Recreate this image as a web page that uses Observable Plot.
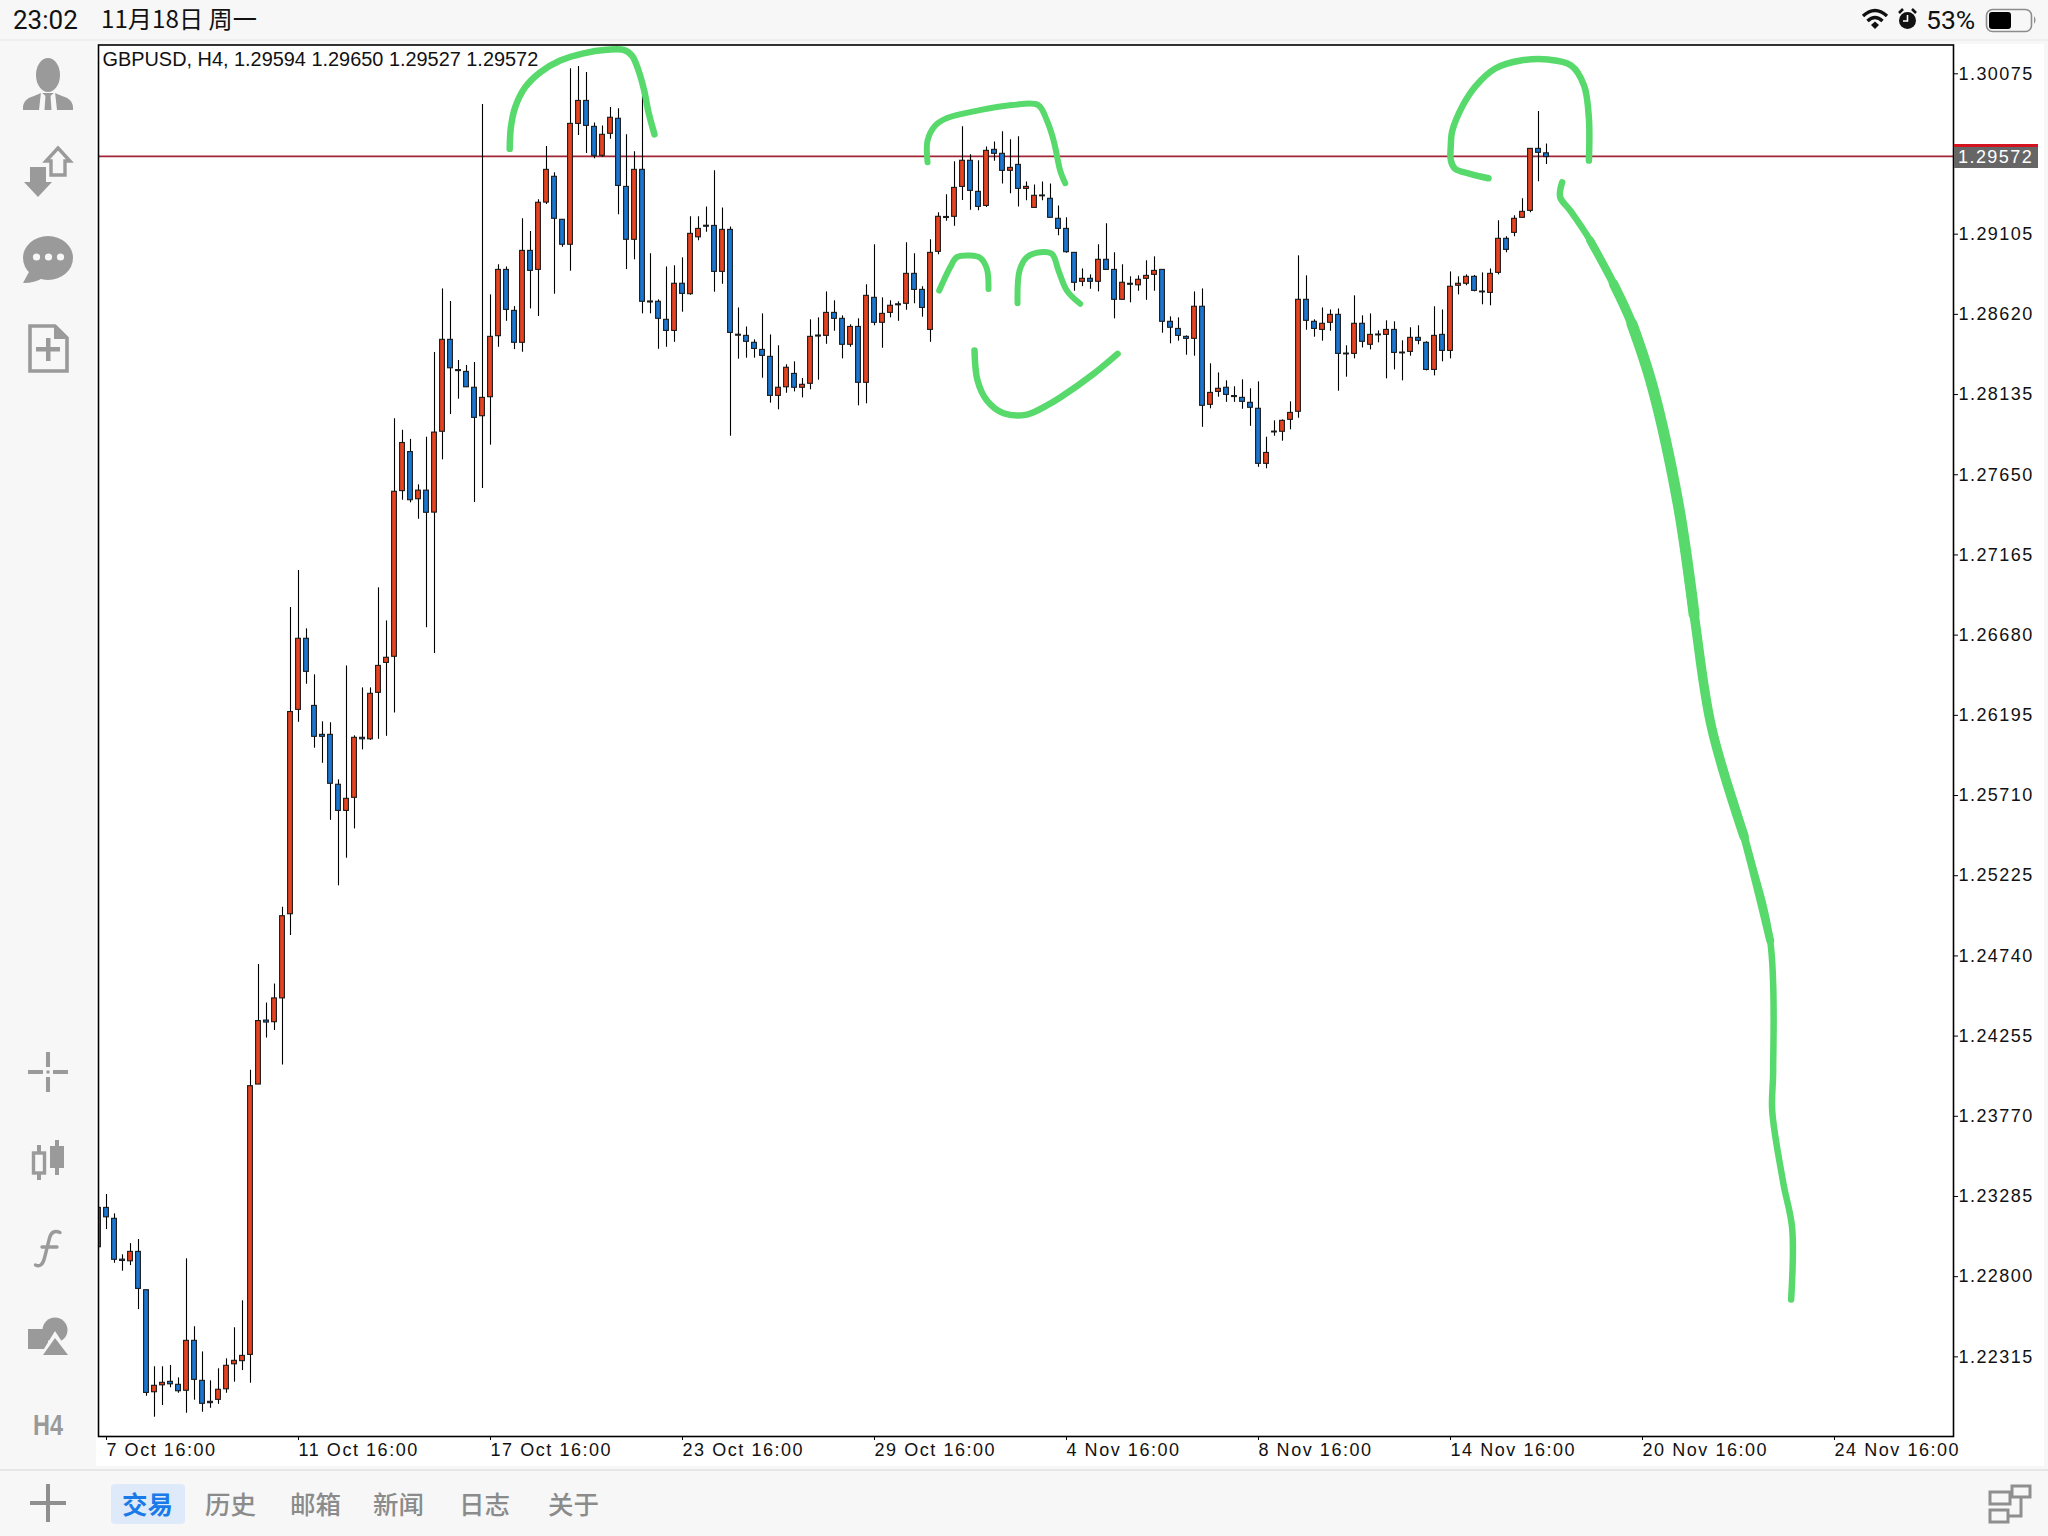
<!DOCTYPE html>
<html lang="zh">
<head>
<meta charset="utf-8">
<title>GBPUSD H4</title>
<script src="https://cdn.jsdelivr.net/npm/d3@7"></script>
<script src="https://cdn.jsdelivr.net/npm/@observablehq/plot@0.6"></script>
<style>
html,body{margin:0;padding:0;background:#f7f7f7;overflow:hidden}
#page{position:relative;width:2048px;height:1536px;background:#f7f7f7;overflow:hidden;font-family:"Liberation Sans",Arial,sans-serif}
#page>*{position:absolute}
#paper{left:96px;top:44px;width:1948px;height:1422px;background:#fff}
#chrome{left:0;top:0}
#chart{left:0;top:0}
#chart svg{display:block;background:transparent}
g[aria-label="y-axis tick label"] text{letter-spacing:1.45px}
g[aria-label="x-axis tick label"] text{letter-spacing:1.55px}
.pb{left:1954px;width:84px}
#pbr{top:144px;height:3px;background:#d3131f}
#pbg{top:147px;height:21px;line-height:21px;background:#666;color:#fff;font-size:18px;letter-spacing:1.45px;text-indent:4px}
</style>
</head>
<body>
<div id="page">
<div id="paper"></div>
<svg id="chrome" width="2048" height="1536" viewBox="0 0 2048 1536" xmlns="http://www.w3.org/2000/svg">
  <line x1="0" y1="40" x2="2048" y2="40" stroke="#ececec" stroke-width="1.5"/>
  <line x1="0" y1="1470" x2="2048" y2="1470" stroke="#e6e6e6" stroke-width="2"/>
  <text x="13" y="28.5" font-family="Roboto,'Liberation Sans'" font-size="26" fill="#111">23:02</text>
  <text x="101" y="28" font-family="'Noto Sans CJK SC'" font-size="24.2" fill="#111">11月18日 周一</text>
  <text x="1926" y="29" font-family="Roboto,'Liberation Sans'" font-size="26.5" fill="#111">53%</text>
  <!-- wifi -->
  <g fill="none" stroke="#111" stroke-width="3.4">
    <path d="M1863 16 Q1875 5 1887 16"/><path d="M1867.5 21 Q1875 14 1882.5 21"/>
  </g>
  <path d="M1871 25 L1875 21.5 L1879 25 L1875 29 Z" fill="#111"/>
  <!-- alarm -->
  <circle cx="1907.5" cy="20.5" r="8.5" fill="#111"/>
  <path d="M1907.5 15 V21 H1903" stroke="#fff" stroke-width="1.6" fill="none"/>
  <path d="M1899 13 L1903 9 M1916 13 L1912 9" stroke="#111" stroke-width="2.6"/>
  <!-- battery -->
  <rect x="1986.5" y="9.5" width="45" height="22" rx="6" fill="none" stroke="#8c8c8c" stroke-width="1.6"/>
  <rect x="1989" y="12" width="22" height="17" rx="3" fill="#000"/>
  <path d="M2034 16 Q2037 20 2034 24 Z" fill="#8c8c8c"/>
  <!-- sidebar icons -->
  <g fill="#9a9a9a">
    <ellipse cx="48" cy="75" rx="12" ry="17"/>
    <path d="M23 110 Q22 99 34 96 L41 93 L55 93 L62 96 Q74 99 73 110 Z"/>
    <path d="M41 92 L48 98 L55 92 L57 110 L39 110 Z" fill="#f7f7f7"/>
    <path d="M45.5 95 H50.5 L51.5 110 H44.5 Z"/>
    <path d="M30 167 H46 V182 H52 L38 197 L24 182 H30 Z"/>
    <path d="M58 148 L70 161 H65 V175 H51 V161 H46 Z" fill="none" stroke="#9a9a9a" stroke-width="3.4"/>
    <ellipse cx="48" cy="258" rx="25" ry="22"/>
    <path d="M30 270 L23 283 Q36 283 44 277 Z"/>
    <circle cx="36.5" cy="257" r="3.6" fill="#f7f7f7"/><circle cx="48.5" cy="257" r="3.6" fill="#f7f7f7"/><circle cx="60.5" cy="257" r="3.6" fill="#f7f7f7"/>
    <path d="M30 326 H55 L67 338 V371 H30 Z" fill="none" stroke="#9a9a9a" stroke-width="3.6"/>
    <path d="M54 325 L68 339 H54 Z"/>
    <path d="M46 338 H50.5 V347 H60 V351.5 H50.5 V361 H46 V351.5 H36 V347 H46 Z"/>
    <rect x="46" y="1052" width="4" height="15"/><rect x="46" y="1077" width="4" height="15"/>
    <rect x="28" y="1070" width="15" height="4"/><rect x="53" y="1070" width="15" height="4"/><rect x="46.5" y="1070.5" width="3" height="3"/>
    <rect x="37" y="1145" width="4" height="35"/><rect x="55" y="1140" width="4" height="35"/>
    <rect x="33.5" y="1153" width="11" height="20" fill="#f7f7f7" stroke="#9a9a9a" stroke-width="3.4"/>
    <rect x="50" y="1146" width="14" height="22"/>
    <rect x="28" y="1329" width="20" height="20"/>
    <circle cx="55" cy="1330" r="12.5"/>
    <path d="M55 1331 L72 1357 H39 Z" fill="#f7f7f7"/>
    <path d="M55 1338 L68 1355 H43 Z"/>
    <path d="M60 1232.5 Q52 1229 49.5 1238 L44.5 1258 Q42 1268 35.5 1265 M42 1247 H57" fill="none" stroke="#9a9a9a" stroke-width="3.4" stroke-linecap="round"/>
    <text x="33" y="1435" font-family="'Liberation Sans'" font-weight="700" font-size="30" textLength="30" lengthAdjust="spacingAndGlyphs">H4</text>
  </g>
  <!-- bottom bar -->
  <path d="M46 1484 H50 V1501 H66 V1505 H50 V1522 H46 V1505 H30 V1501 H46 Z" fill="#8f8f8f"/>
  <rect x="111" y="1484" width="74" height="40" rx="4" fill="#deeafa"/>
  <g font-family="'Noto Sans CJK SC'" font-size="25.5" fill="#8b8b8b" font-weight="500">
    <text x="122" y="1513.5" fill="#1a7be8" font-weight="700">交易</text>
    <text x="205" y="1513.5">历史</text>
    <text x="290" y="1513.5">邮箱</text>
    <text x="373" y="1513.5">新闻</text>
    <text x="459" y="1513.5">日志</text>
    <text x="548" y="1513.5">关于</text>
  </g>
  <g fill="none" stroke="#8f8f8f" stroke-width="3">
    <rect x="1990" y="1492" width="20" height="12"/>
    <rect x="2012" y="1486" width="18" height="11"/>
    <rect x="1990" y="1510" width="18" height="12"/>
    <path d="M2021 1497 V1516 H2008"/>
  </g>
</svg>
<div id="chart"></div>
<div id="pbr" class="pb"></div>
<div id="pbg" class="pb"></div>
</div>
<script>
// Quote header and last price
const symbolLine = "GBPUSD, H4, 1.29594 1.29650 1.29527 1.29572";
const lastPrice = 1.29572;

// Axis ticks
const yTicks = [1.30075,1.29105,1.28620,1.28135,1.27650,1.27165,1.26680,1.26195,1.25710,1.25225,1.24740,1.24255,1.23770,1.23285,1.22800,1.22315];
const xTicks = [0,24,48,72,96,120,144,168,192,216];
const xLabels = ["7 Oct 16:00","11 Oct 16:00","17 Oct 16:00","23 Oct 16:00","29 Oct 16:00","4 Nov 16:00","8 Nov 16:00","14 Nov 16:00","20 Nov 16:00","24 Nov 16:00"];

// Candles, in points (1e-5). The first candle is bar -1, cut off by the frame.
const firstBar = -1;
const opens = [122978,123216,123150,122903,122893,122950,122718,122101,122143,122164,122146,122110,122412,122170,122043,122055,122119,122270,122289,122327,
123962,124349,124339,124483,124992,126228,126658,126252,126077,126077,125775,125617,125696,126059,126050,126331,126512,126549,127551,127787,
127502,127554,127421,127910,128466,128283,128272,128176,128004,128119,128488,128889,128641,128448,129004,128889,129296,129452,129192,129041,
129772,129911,129754,129579,129712,129803,129391,129071,129494,128698,128696,128587,128520,128805,128742,129086,129156,129155,128877,129131,
128497,128490,128448,128405,128363,128127,128179,128260,128176,128200,128492,128490,128629,128593,128436,128544,128206,128720,128569,128629,
128681,128684,128865,128768,128526,128998,129209,129210,129391,129549,129361,129276,129615,129591,129488,129524,129379,129264,129339,129319,
129198,129137,128992,128817,128835,128817,128950,128889,128708,128805,128796,128835,128859,128889,128575,128532,128484,128472,128666,128073,
128151,128176,128126,128115,128085,128049,127716,127911,127910,127982,128031,128708,128575,128526,128569,128617,128383,128381,128563,128436,
128498,128496,128526,128389,128393,128478,128448,128284,128496,128399,128793,128805,128847,128758,128750,128871,129077,129113,129204,129246,
129621,129594];
const highs = [123216,123297,123180,122932,123000,123025,122718,122255,122255,122263,122188,122908,122497,122345,122170,122243,122303,122491,122654,124048,
124688,124455,124570,125034,126847,127071,126718,126440,126156,126150,125805,126494,126071,126361,126361,126966,126766,127989,127919,127864,
127589,127877,128389,128774,128698,128341,128311,128329,129889,128738,128920,128907,128667,129198,129121,129313,129635,129476,129192,130105,
130119,130083,129778,129760,129871,129863,129706,129603,129954,128986,128708,128907,128914,128962,129210,129210,129270,129488,129264,129149,
128659,128544,128466,128623,128496,128430,128315,128333,128232,128587,128599,128756,128702,128611,128557,128593,128799,129041,128720,128702,
128696,129053,128986,128787,129071,129234,129343,129543,129754,129585,129549,129633,129663,129724,129676,129694,129421,129403,129421,129409,
129276,129204,128992,128895,128859,129041,129168,128992,128920,128847,128853,128944,128968,128889,128605,128599,128490,128756,128774,128321,
128266,128218,128182,128224,128170,128212,127877,127976,127982,128091,128974,128853,128587,128659,128647,128653,128430,128732,128611,128623,
128520,128581,128575,128460,128539,128551,128454,128666,128647,128877,128847,128859,128855,128871,128895,129186,129089,129216,129319,129621,
129847,129650];
const lows = [122978,123085,122881,122833,122867,122601,122077,121950,122021,122128,122095,121974,122053,121980,122004,122028,122095,122162,122232,122155,
123962,124243,124289,124080,124864,126153,126383,125996,125905,125560,125164,125331,125508,125986,126044,126050,126068,126209,127496,127480,
127381,126725,126569,127740,128014,128107,128179,127482,127567,127829,128421,128578,128407,128391,128653,128607,129284,128742,129026,128881,
129702,129593,129561,129570,129679,129222,128891,128950,128623,128623,128409,128421,128451,128633,128736,129065,129117,128754,128802,127883,
128349,128355,128355,128234,128083,128043,128143,128151,128115,128164,128222,128439,128518,128351,128421,128067,128079,128551,128415,128599,
128578,128645,128684,128603,128451,128980,129183,129153,129308,129250,129246,129266,129546,129409,129349,129270,129307,129264,129307,129204,
129095,128990,128760,128788,128772,128756,128889,128593,128708,128690,128760,128705,128760,128506,128442,128458,128373,128367,127937,128049,
128119,128088,128088,128046,127943,127695,127686,127883,127853,127922,127992,128524,128482,128458,128518,128155,128240,128351,128417,128405,
128448,128230,128284,128218,128367,128436,128278,128248,128333,128351,128738,128793,128756,128678,128672,128859,128992,129089,129204,129234,
129422,129527];
const closes = [123216,123159,122902,122895,122950,122726,122097,122140,122158,122149,122107,122412,122176,122031,122035,122116,122261,122291,122321,123952,
124346,124337,124483,124980,126215,126658,126458,126065,126065,125781,125617,125690,126059,126050,126325,126494,126543,127547,127842,127496,
127554,127420,127905,128466,128294,128277,128179,127994,128115,128484,128889,128647,128448,129004,128883,129295,129494,129198,129041,129772,
129911,129760,129579,129706,129809,129397,129071,129494,128696,128692,128593,128520,128805,128744,129107,129137,129150,128877,129131,128508,
128491,128454,128411,128369,128127,128176,128297,128176,128194,128484,128486,128629,128593,128436,128544,128206,128732,128569,128623,128672,
128675,128865,128768,128659,128992,129210,129203,129385,129549,129367,129270,129609,129591,129488,129506,129379,129391,129337,129334,129204,
129137,128996,128811,128835,128817,128950,128889,128708,128811,128799,128829,128853,128883,128575,128539,128490,128472,128666,128067,128145,
128170,128133,128120,128091,128055,127716,127782,127906,127976,128024,128708,128581,128532,128563,128617,128381,128378,128563,128454,128496,
128493,128526,128387,128384,128478,128460,128284,128490,128399,128787,128805,128847,128762,128753,128865,129077,129010,129198,129240,129621,
129597,129572];

// Hand-drawn green annotations, as (bar, price in points)
const arcOneBars = [50.4,50.55,51.09,52.34,54.21,56.71,59.63,62.55,64.63,65.68,66.5,67.21,67.75,68.5];
const arcOnePrices = [129621,129752,129873,129994,130084,130155,130199,130220,130220,130185,130095,129974,129842,129708];
const arcTwoBars = [102.63,102.63,103.6,105.08,109.15,113.21,116.46,117.55,118.21,118.59,119.21,119.84];
const arcTwoPrices = [129540,129671,129762,129807,129855,129886,129886,129792,129702,129631,129490,129413];
const leftShoulderBars = [104.09,105.46,106.3,107.96,109.21,110.05,110.25];
const leftShoulderPrices = [128764,128905,128966,128976,128962,128895,128774];
const rightShoulderBars = [113.88,114.13,115.05,116.71,118.18,119,120.05,121.71];
const rightShoulderPrices = [128687,128885,128966,128996,128986,128885,128764,128684];
const smileBars = [108.5,108.88,110.05,112.13,115.05,117.55,119.21,123.38,126.38];
const smilePrices = [128401,128220,128099,128022,128014,128069,128117,128260,128381];
const arcThreeBars = [172.75,170.46,168.59,168.05,168.05,168.2,169.6,171.2,173.6,176.8,180.2,183.1,184.7,185.3,185.3];
const arcThreePrices = [129443,129470,129500,129550,129651,129726,129889,130004,130107,130155,130161,130125,130004,129804,129550];
const dropBars = [181.96,181.71,182.96,185.46,188.38,190.68,193.2,196.45,198.45,200.58,204.7,207.96,208.33,208.21,209.59,210.71,210.58];
const dropPrices = [129419,129329,129248,129067,128805,128563,128190,127476,126805,126133,125462,124833,124041,123805,123369,123091,122662];

const P = 1e5;
const candles = opens.map((o,i)=>({bar:i+firstBar, open:o/P, high:highs[i]/P, low:lows[i]/P, close:closes[i]/P}));
const series = (bars,prices,from=0,to=bars.length)=>bars.slice(from,to).map((b,i)=>({bar:b, price:prices[i+from]/P}));
const green = "#58d96c";
const ink = (bars,prices,w,from,to)=>Plot.line(series(bars,prices,from,to),{x:"bar",y:"price",stroke:green,strokeWidth:w,curve:"catmull-rom",strokeLinecap:"round",strokeLinejoin:"round",clip:true});

const W=2048,H=1536,L=98,R=1953,T=44.5,B=1436;
const barAt = px => (px-106)/8;
const priceAt = py => (130518.3-6.048*py)/P;

const plot = Plot.plot({
  width:W,height:H,
  marginLeft:L,marginRight:W-R,marginTop:T,marginBottom:H-B,
  x:{domain:[barAt(L),barAt(R)],axis:null},
  y:{domain:[priceAt(B),priceAt(T)],axis:null},
  style:{background:"transparent",fontFamily:"'Liberation Sans',Arial,sans-serif",color:"#111"},
  marks:[
    Plot.ruleY([lastPrice],{stroke:"#a02535",strokeWidth:1.8,dy:-0.5}),
    Plot.ruleX(candles,{x:"bar",y1:"low",y2:"high",stroke:"#000",strokeWidth:1.1,clip:true}),
    Plot.rect(candles.filter(d=>d.close>=d.open),{x1:d=>d.bar-0.3,x2:d=>d.bar+0.3,y1:"open",y2:"close",fill:"#e8421f",stroke:"#1a1a1a",strokeWidth:1.1,clip:true}),
    Plot.rect(candles.filter(d=>d.close<d.open),{x1:d=>d.bar-0.3,x2:d=>d.bar+0.3,y1:"open",y2:"close",fill:"#1976d2",stroke:"#1a1a1a",strokeWidth:1.1,clip:true}),
    Plot.text([symbolLine],{frameAnchor:"top-left",dx:4,dy:7,fontSize:19.9,fill:"#111",textAnchor:"start",lineAnchor:"top"}),
    ink(arcOneBars,arcOnePrices,6.5),
    ink(arcTwoBars,arcTwoPrices,6),
    ink(leftShoulderBars,leftShoulderPrices,6),
    ink(rightShoulderBars,rightShoulderPrices,6),
    ink(smileBars,smilePrices,6.5),
    ink(arcThreeBars,arcThreePrices,6.5),
    ink(dropBars,dropPrices,6.5,0,17),
    ink(dropBars,dropPrices,8,3,12),
    ink(dropBars,dropPrices,9.5,4,11),
    ink(dropBars,dropPrices,11,5,9),
    Plot.frame({stroke:"#000",strokeWidth:1.6}),
    Plot.axisY({anchor:"right",ticks:yTicks,tickFormat:d=>d.toFixed(5),tickSize:4,tickPadding:1,fontSize:18,label:null,stroke:"#000"}),
    Plot.axisX({anchor:"bottom",ticks:xTicks,tickFormat:d=>xLabels[xTicks.indexOf(d)],tickSize:4,tickPadding:3,fontSize:18,textAnchor:"start",lineAnchor:"top",label:null,stroke:"#000"})
  ]
});
document.getElementById("chart").appendChild(plot);
document.getElementById("pbg").textContent = lastPrice.toFixed(5);
</script>
</body>
</html>
